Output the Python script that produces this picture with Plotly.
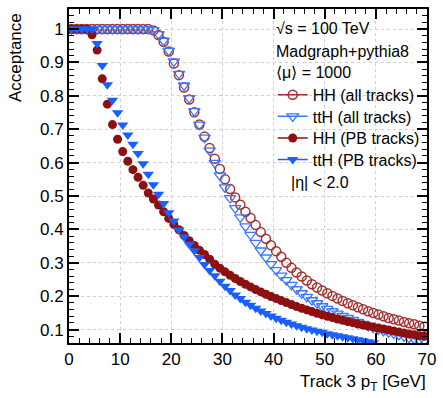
import plotly.graph_objects as go

# ---------------- data ----------------
pt = [i + 0.5 for i in range(70)]

hh_all = [1.0] * 16 + [
    0.996, 0.982, 0.962, 0.933, 0.897, 0.862, 0.825, 0.789, 0.751, 0.714,
    0.678, 0.644, 0.612, 0.581, 0.550, 0.521, 0.496, 0.474, 0.453, 0.434,
    0.413, 0.392, 0.372, 0.353, 0.335, 0.318, 0.300, 0.285, 0.271, 0.259,
    0.247, 0.236, 0.226, 0.217, 0.209, 0.201, 0.193, 0.186, 0.179, 0.173,
    0.167, 0.161, 0.155, 0.150, 0.145, 0.140, 0.135, 0.131, 0.127, 0.123,
    0.119, 0.116, 0.112, 0.109]

tth_all = [1.0] * 16 + [
    0.997, 0.985, 0.965, 0.935, 0.903, 0.866, 0.831, 0.793, 0.754, 0.714,
    0.675, 0.636, 0.599, 0.562, 0.526, 0.494, 0.464, 0.436, 0.409, 0.384,
    0.360, 0.337, 0.316, 0.296, 0.278, 0.262, 0.248, 0.234, 0.221, 0.209,
    0.198, 0.188, 0.179, 0.170, 0.162, 0.155, 0.148, 0.141, 0.135, 0.129,
    0.123, 0.117, 0.111, 0.106, 0.101, 0.096, 0.092, 0.088, 0.084, 0.080,
    0.076, 0.072, 0.069, 0.066]

hh_pb = [1.0, 1.0, 1.0, 0.999, 0.983, 0.937, 0.851, 0.775, 0.714, 0.670,
         0.633, 0.604, 0.579, 0.556, 0.532, 0.509, 0.491, 0.473, 0.453, 0.433,
         0.415, 0.399, 0.382, 0.366, 0.352, 0.338, 0.325, 0.311, 0.296, 0.284,
         0.273, 0.263, 0.253, 0.244, 0.236, 0.228, 0.220, 0.213, 0.206, 0.199,
         0.193, 0.187, 0.181, 0.175, 0.169, 0.164, 0.159, 0.154, 0.149, 0.144,
         0.140, 0.136, 0.132, 0.128, 0.124, 0.121, 0.117, 0.114, 0.111, 0.108,
         0.105, 0.102, 0.099, 0.096, 0.093, 0.090, 0.087, 0.085, 0.082, 0.080]

tth_pb = [1.0, 1.0, 1.0, 1.0, 0.999, 0.957, 0.891, 0.833, 0.787, 0.749,
          0.713, 0.683, 0.655, 0.627, 0.597, 0.565, 0.534, 0.505, 0.478, 0.450,
          0.425, 0.399, 0.377, 0.356, 0.336, 0.316, 0.295, 0.277, 0.261, 0.245,
          0.230, 0.217, 0.204, 0.193, 0.182, 0.173, 0.164, 0.156, 0.148, 0.141,
          0.134, 0.128, 0.122, 0.117, 0.112, 0.107, 0.103, 0.099, 0.095, 0.092,
          0.088, 0.085, 0.082, 0.079, 0.076, 0.073, 0.070, 0.067, 0.064, 0.061]

series_names = ["HH (all tracks)", "ttH (all tracks)", "HH (PB tracks)", "ttH (PB tracks)"]
x_ticks = [0, 10, 20, 30, 40, 50, 60, 70]
info_lines = ["√s = 100 TeV", "Madgraph+pythia8", "⟨μ⟩ = 1000"]
eta_text = "|η| < 2.0"

# ---------------- styling ----------------
FONT = "Liberation Sans, Arial, Helvetica, sans-serif"
RED_F = "#8c1010"
RED_O = "#a33030"
BLUE_F = "#1a5fff"
BLUE_O = "#3a78ff"

styles = [
    dict(symbol="circle-open", size=9, color=RED_O, line=dict(width=1.5, color=RED_O)),
    dict(symbol="triangle-down-open", size=10, color=BLUE_O, line=dict(width=1.3, color=BLUE_O)),
    dict(symbol="circle", size=9, color=RED_F, line=dict(width=0)),
    dict(symbol="triangle-down", size=10, color=BLUE_F, line=dict(width=0)),
]
data = [hh_all, tth_all, hh_pb, tth_pb]
legend_keys = ["legend", "legend2", "legend3", "legend4"]

fig = go.Figure()
for vals, st in zip(data, styles):
    fig.add_trace(go.Scatter(x=pt[:len(vals)], y=vals, mode="markers",
                             marker=st, showlegend=False, hoverinfo="skip"))

# legend-only entries (line + marker like ROOT "lp")
for name, st, key in zip(series_names, styles, legend_keys):
    fig.add_trace(go.Scatter(x=[None], y=[None], mode="lines+markers", name=name,
                             marker=st, line=dict(color=st["color"], width=1.5),
                             legend=key, showlegend=True))

L_h = 335.7
def py(pix):
    return (342.7 - pix) / L_h

def px(pix):
    return (pix - 69.0) / 362.0

leg_centers = [93.3, 115.0, 136.7, 158.3]
leg_common = dict(xanchor="left", yanchor="middle", bgcolor="rgba(0,0,0,0)",
                  borderwidth=0, font=dict(family=FONT, size=16, color="black"),
                  itemwidth=30)
layout_legends = {}
for key, yc in zip(legend_keys, leg_centers):
    layout_legends[key] = dict(x=px(275), y=py(yc), **leg_common)

axis_common = dict(
    ticks="inside", ticklen=10, tickwidth=1.5, tickcolor="black",
    showline=True, linewidth=2, linecolor="black", mirror="ticks",
    showgrid=True, gridcolor="#cfcfcf", gridwidth=1, griddash="dot",
    zeroline=False, tickfont=dict(family=FONT, size=17, color="black"),
)

fig.update_layout(
    width=443, height=398, autosize=False,
    margin=dict(l=69, r=12, t=7, b=55),
    paper_bgcolor="white", plot_bgcolor="white",
    xaxis=dict(range=[0, 70], tickmode="array", tickvals=x_ticks,
               minor=dict(dtick=2, tick0=0, ticks="inside", ticklen=5, tickwidth=1,
                          tickcolor="black", showgrid=False),
               **axis_common),
    yaxis=dict(range=[0.06, 1.06], tickmode="linear", tick0=0, dtick=0.1,
               minor=dict(dtick=0.02, tick0=0, ticks="inside", ticklen=5, tickwidth=1,
                          tickcolor="black", showgrid=False),
               **axis_common),
    **layout_legends,
)

ann = []
ann.append(dict(text="Acceptance", xref="paper", yref="paper", x=px(15), y=py(9),
                xanchor="center", yanchor="top", textangle=-90, showarrow=False,
                font=dict(family=FONT, size=17, color="black")))
ann.append(dict(text="Track 3 p<sub>T</sub> [GeV]", xref="paper", yref="paper",
                x=px(432), y=py(383), xanchor="right", yanchor="middle", showarrow=False,
                font=dict(family=FONT, size=17, color="black")))
for t, yc in zip(info_lines, [27, 50, 71]):
    ann.append(dict(text=t, xref="paper", yref="paper", x=px(276), y=py(yc),
                    xanchor="left", yanchor="middle", showarrow=False,
                    font=dict(family=FONT, size=16, color="black")))
ann.append(dict(text=eta_text, xref="paper", yref="paper", x=px(291), y=py(181.7),
                xanchor="left", yanchor="middle", showarrow=False,
                font=dict(family=FONT, size=16, color="black")))
fig.update_layout(annotations=ann)

fig.write_html("out.html")
